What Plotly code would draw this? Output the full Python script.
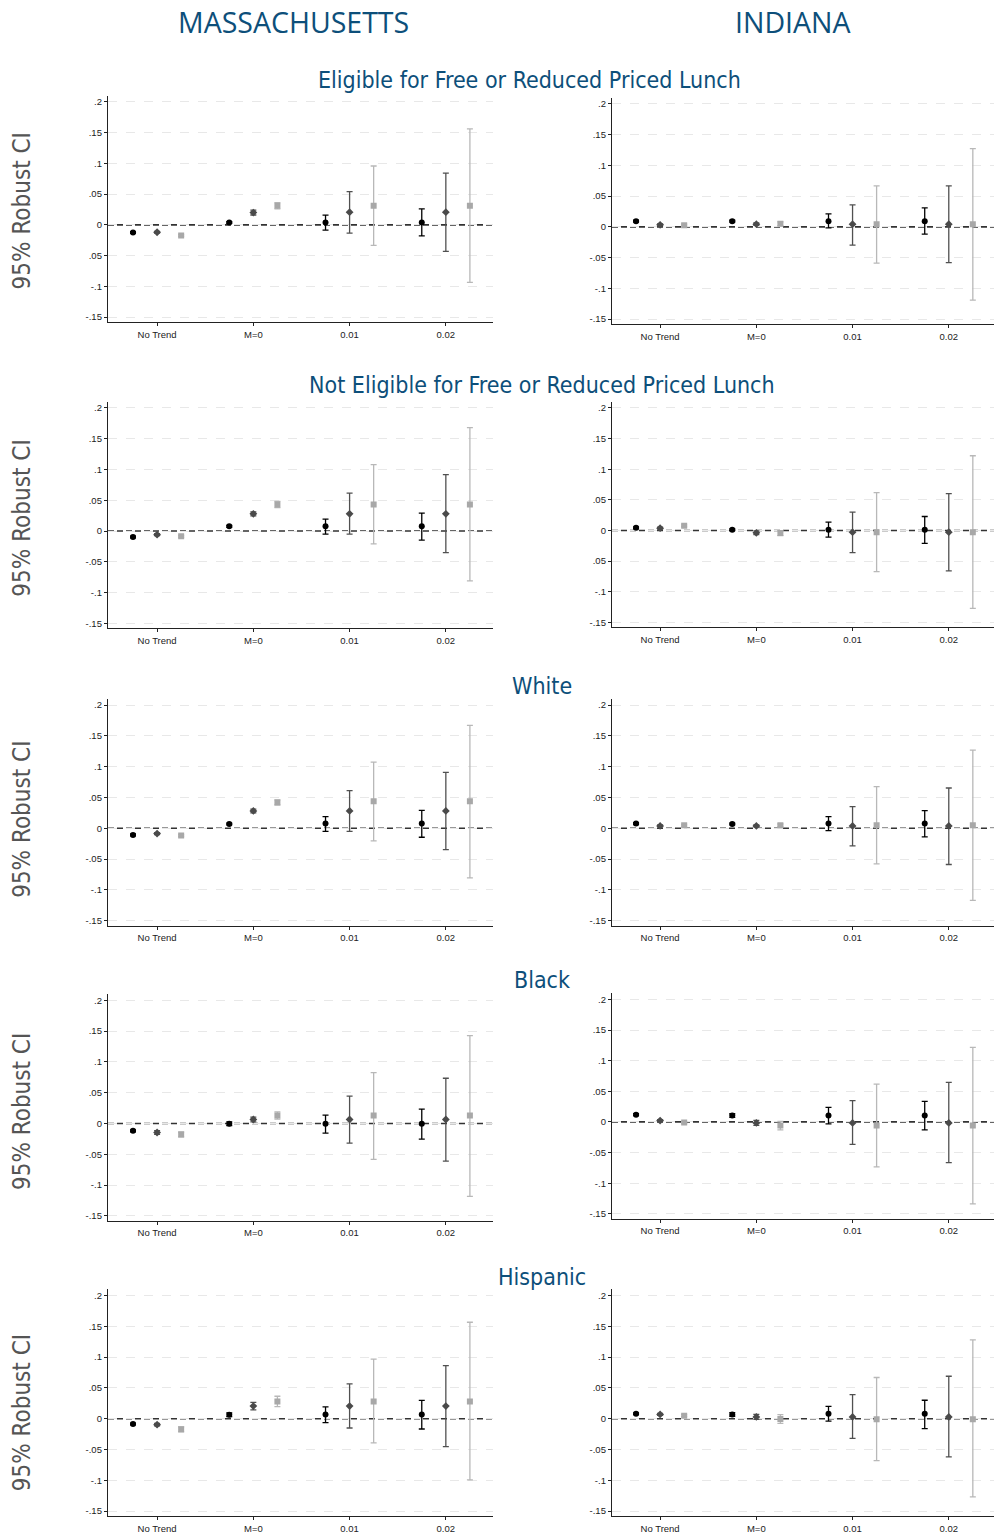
import plotly.graph_objects as go

W, H = 994, 1534

categories = ["No Trend", "M=0", "0.01", "0.02"]
ytick_vals = [-0.15, -0.1, -0.05, 0, 0.05, 0.1, 0.15, 0.2]
ytick_text = ["-.15", "-.1", "-.05", "0", ".05", ".1", ".15", ".2"]
ytick_text_alt = ["-.15", "-.1", ".05", "0", ".05", ".1", ".15", ".2"]

states = ["MASSACHUSETTS", "INDIANA"]
groups = ["Eligible for Free or Reduced Priced Lunch",
          "Not Eligible for Free or Reduced Priced Lunch",
          "White", "Black", "Hispanic"]

# each panel: three series (black circle, dark-gray diamond, light-gray square)
ma_frl_est = [[-0.0124, 0.0038, 0.004, 0.004], [-0.012, 0.020, 0.0205, 0.0205], [-0.0173, 0.031, 0.031, 0.031]]
ma_frl_lo = [[-0.0139, 0.0023, -0.0086, -0.018], [-0.0135, 0.016, -0.0135, -0.043], [-0.0188, 0.026, -0.0335, -0.0935]]
ma_frl_hi = [[-0.0109, 0.0053, 0.0157, 0.026], [-0.0105, 0.024, 0.054, 0.084], [-0.0158, 0.036, 0.0956, 0.156]]

in_frl_est = [[0.0092, 0.0092, 0.0092, 0.0092], [0.0032, 0.0043, 0.0043, 0.0043], [0.0027, 0.0049, 0.0043, 0.0043]]
in_frl_lo = [[0.0077, 0.0077, -0.0016, -0.0119], [0.0017, 0.0023, -0.0297, -0.0583], [0.0012, 0.0019, -0.0589, -0.119]]
in_frl_hi = [[0.0107, 0.0107, 0.021, 0.0308], [0.0047, 0.0063, 0.0357, 0.0665], [0.0042, 0.0079, 0.0665, 0.127]]

ma_nfrl_est = [[-0.0097, 0.0076, 0.0076, 0.0076], [-0.0059, 0.028, 0.028, 0.028], [-0.0086, 0.0432, 0.0432, 0.0432]]
ma_nfrl_lo = [[-0.0112, 0.0061, -0.0049, -0.0146], [-0.0074, 0.0248, -0.0049, -0.035], [-0.0101, 0.0382, -0.021, -0.081]]
ma_nfrl_hi = [[-0.0082, 0.0091, 0.0194, 0.0292], [-0.0044, 0.0312, 0.0616, 0.0918], [-0.0071, 0.0482, 0.108, 0.168]]

in_nfrl_est = [[0.0043, 0.0011, 0.0011, 0.0011], [0.0038, -0.0038, -0.0027, -0.0027], [0.0076, -0.0043, -0.0027, -0.0027]]
in_nfrl_lo = [[0.0028, -0.0004, -0.0108, -0.0211], [0.0023, -0.0068, -0.0363, -0.066], [0.0061, -0.0083, -0.0672, -0.127]]
in_nfrl_hi = [[0.0058, 0.0026, 0.0135, 0.0228], [0.0053, -0.0008, 0.0298, 0.060], [0.0091, -0.0003, 0.0618, 0.122]]

ma_white_est = [[-0.0108, 0.007, 0.0076, 0.0076], [-0.0086, 0.0281, 0.0281, 0.0281], [-0.0119, 0.042, 0.0438, 0.0438]]
ma_white_lo = [[-0.0123, 0.0055, -0.0049, -0.0146], [-0.0101, 0.0251, -0.0049, -0.0346], [-0.0134, 0.038, -0.0205, -0.0805]]
ma_white_hi = [[-0.0093, 0.0085, 0.0189, 0.0292], [-0.0071, 0.0311, 0.061, 0.0908], [-0.0104, 0.046, 0.1075, 0.167]]

in_white_est = [[0.0076, 0.007, 0.0076, 0.0076], [0.0038, 0.0038, 0.0038, 0.0038], [0.0049, 0.0049, 0.0049, 0.0049]]
in_white_lo = [[0.0061, 0.0055, -0.0038, -0.014], [0.0023, 0.0023, -0.0286, -0.0589], [0.0034, 0.0029, -0.0578, -0.117]]
in_white_hi = [[0.0091, 0.0085, 0.0189, 0.0286], [0.0053, 0.0053, 0.0351, 0.0654], [0.0064, 0.0069, 0.0675, 0.127]]

ma_black_est = [[-0.0119, -0.0005, -0.0005, -0.0005], [-0.0146, 0.0065, 0.0065, 0.0065], [-0.0178, 0.013, 0.013, 0.013]]
ma_black_lo = [[-0.0134, -0.0035, -0.0157, -0.0254], [-0.0176, 0.0025, -0.0319, -0.061], [-0.0218, 0.007, -0.0583, -0.1183]]
ma_black_hi = [[-0.0104, 0.0025, 0.0135, 0.0232], [-0.0116, 0.0105, 0.0443, 0.0735], [-0.0138, 0.019, 0.0827, 0.1426]]

in_black_est = [[0.0119, 0.0103, 0.0103, 0.0103], [0.0022, -0.0016, -0.0016, -0.0016], [-0.0011, -0.006, -0.006, -0.006]]
in_black_lo = [[0.0104, 0.0073, -0.0032, -0.013], [0.0007, -0.0056, -0.0368, -0.0665], [-0.0026, -0.013, -0.0735, -0.1336]]
in_black_hi = [[0.0134, 0.0133, 0.0238, 0.0335], [0.0037, 0.0024, 0.0346, 0.0644], [0.0004, 0.001, 0.0617, 0.1217]]

ma_hisp_est = [[-0.0086, 0.0065, 0.007, 0.007], [-0.0097, 0.0205, 0.0205, 0.0205], [-0.0173, 0.028, 0.028, 0.028]]
ma_hisp_lo = [[-0.0101, 0.0035, -0.0065, -0.0167], [-0.0117, 0.0145, -0.0151, -0.0454], [-0.0213, 0.0195, -0.0394, -0.0994]]
ma_hisp_hi = [[-0.0071, 0.0095, 0.0194, 0.0297], [-0.0077, 0.0265, 0.0567, 0.0864], [-0.0133, 0.0365, 0.0967, 0.1567]]

in_hisp_est = [[0.0081, 0.007, 0.008, 0.008], [0.007, 0.003, 0.003, 0.003], [0.005, -0.0005, -0.001, -0.001]]
in_hisp_lo = [[0.0066, 0.004, -0.004, -0.016], [0.0055, -0.001, -0.032, -0.062], [0.0035, -0.0075, -0.068, -0.127]]
in_hisp_hi = [[0.0096, 0.010, 0.020, 0.030], [0.0085, 0.007, 0.039, 0.069], [0.0065, 0.0065, 0.067, 0.128]]

panels = [
    [(ma_frl_est, ma_frl_lo, ma_frl_hi), (in_frl_est, in_frl_lo, in_frl_hi)],
    [(ma_nfrl_est, ma_nfrl_lo, ma_nfrl_hi), (in_nfrl_est, in_nfrl_lo, in_nfrl_hi)],
    [(ma_white_est, ma_white_lo, ma_white_hi), (in_white_est, in_white_lo, in_white_hi)],
    [(ma_black_est, ma_black_lo, ma_black_hi), (in_black_est, in_black_lo, in_black_hi)],
    [(ma_hisp_est, ma_hisp_lo, ma_hisp_hi), (in_hisp_est, in_hisp_lo, in_hisp_hi)],
]

# layout (pixel positions of .2 and -.15 gridlines per panel)
p_ma = [(102, 318), (409, 625), (707, 923), (1003, 1219), (1299, 1515)]
p_in = [(104, 320), (409, 624), (707, 923), (1002, 1217), (1299, 1515)]
x_px = [(108, 493), (612, 994)]
x_ranges = [(0.49, 4.49), (0.5, 4.47)]
Y_LO, Y_HI = -0.158, 0.21

offsets = [-0.25, 0.0, 0.25]
marker_sym = ["circle", "diamond", "square"]
marker_col = ["#000000", "#4a4a4a", "#a8a8a8"]
err_col = ["#000000", "#505050", "#b8b8b8"]
marker_size = [6, 6, 6]

fig = go.Figure()
layout = dict(width=W, height=H, margin=dict(l=0, r=0, t=0, b=0),
              plot_bgcolor="white", paper_bgcolor="white", showlegend=False)
shapes = []
annotations = []

TICKFONT = dict(family="Liberation Sans, Arial", size=9.5, color="#222222")
NARROW = "DejaVu Sans Condensed, Liberation Sans Narrow, Roboto"

k = 0
for r in range(5):
    for c in range(2):
        k += 1
        xa = "xaxis" if k == 1 else f"xaxis{k}"
        ya = "yaxis" if k == 1 else f"yaxis{k}"
        xref = "x" if k == 1 else f"x{k}"
        yref = "y" if k == 1 else f"y{k}"
        p2, p15 = (p_ma if c == 0 else p_in)[r]
        s = (p15 - p2) / 0.35
        top = p2 - (Y_HI - 0.2) * s
        bot = p15 + (-0.15 - Y_LO) * s
        layout[xa] = dict(domain=[x_px[c][0] / W, x_px[c][1] / W], range=list(x_ranges[c]),
                          anchor=yref, tickvals=[1, 2, 3, 4], ticktext=categories,
                          showgrid=False, zeroline=False, showline=True, linecolor="#222222",
                          linewidth=1.3, ticks="outside", ticklen=3, tickcolor="#222222",
                          tickfont=TICKFONT, fixedrange=True)
        alt = (r == 0 and c == 0) or (r == 1 and c == 1)
        layout[ya] = dict(domain=[1 - bot / H, 1 - top / H], range=[Y_LO, Y_HI],
                          anchor=xref, tickvals=ytick_vals,
                          ticktext=ytick_text_alt if alt else ytick_text,
                          showgrid=True, gridcolor="#e8e8e8", griddash="dash", gridwidth=1,
                          zeroline=False, showline=True, linecolor="#222222", linewidth=1.3,
                          ticks="outside", ticklen=3, tickcolor="#222222",
                          tickfont=TICKFONT, fixedrange=True)
        shapes.append(dict(type="line", xref=f"{xref} domain", yref=yref,
                           x0=0, x1=1, y0=0, y1=0,
                           line=dict(color="#333333", width=1.6, dash="6px,3px"), layer="below"))
        est, lo, hi = panels[r][c]
        for si in range(3):
            xs = [i + 1 + offsets[si] for i in range(4)]
            fig.add_trace(go.Scatter(
                x=xs, y=est[si], mode="markers", xaxis=xref, yaxis=yref,
                marker=dict(symbol=marker_sym[si], color=marker_col[si], size=marker_size[si],
                            line=dict(width=0)),
                error_y=dict(type="data", symmetric=False,
                             array=[h - e for h, e in zip(hi[si], est[si])],
                             arrayminus=[e - l for e, l in zip(est[si], lo[si])],
                             color=err_col[si], thickness=1.3, width=3),
            ))

# column titles
for txt, xc in zip(states, [293, 793]):
    annotations.append(dict(text=txt, x=xc / W, y=1 - 22 / H, xref="paper", yref="paper",
                            showarrow=False, xanchor="center", yanchor="middle",
                            font=dict(family="Open Sans", size=28.5, color="#0d4f7a")))
# row titles
row_title_pos = [(529, 80), (542, 386), (542, 688), (542, 983), (542, 1280)]
for txt, (xc, yc) in zip(groups, row_title_pos):
    annotations.append(dict(text=txt, x=xc / W, y=1 - yc / H, xref="paper", yref="paper",
                            showarrow=False, xanchor="center", yanchor="middle",
                            font=dict(family=NARROW, size=23, color="#0d4f7a")))
# y labels
ylab_pos = [212, 520, 822, 1115, 1417]
for yc in ylab_pos:
    annotations.append(dict(text="95% Robust CI", x=22 / W, y=1 - yc / H, xref="paper", yref="paper",
                            showarrow=False, xanchor="center", yanchor="middle", textangle=-90,
                            font=dict(family=NARROW, size=24, color="#555555")))

layout["shapes"] = shapes
layout["annotations"] = annotations
fig.update_layout(**layout)
fig.write_html("out.html")
